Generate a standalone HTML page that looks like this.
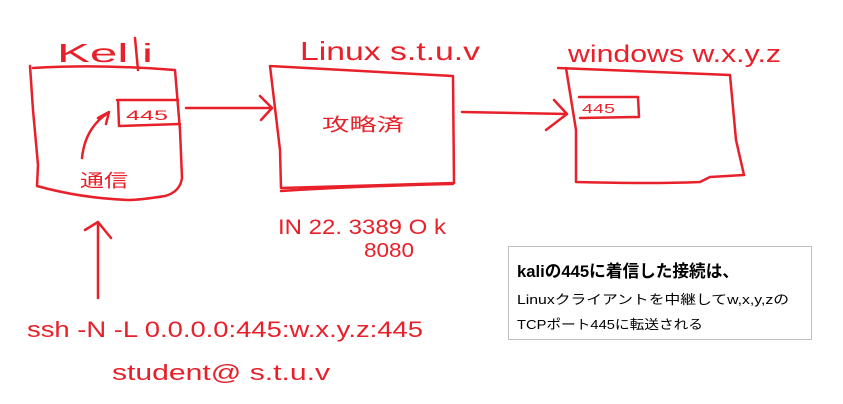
<!DOCTYPE html>
<html><head><meta charset="utf-8"><style>
html,body{margin:0;padding:0;background:#fff;width:843px;height:404px;overflow:hidden}
svg{display:block}
.r{fill:none;stroke:#e8202a;stroke-width:2.5;stroke-linecap:round;stroke-linejoin:round}
.t{fill:#e8202a;font-family:"Liberation Sans","Noto Sans CJK JP",sans-serif}
</style></head><body>
<svg width="843" height="404" viewBox="0 0 843 404">
<path class="r" d="M33 68 Q100 64 175 70 L180 130 L182 178 Q180 192 165 196 Q140 200 128 200 Q80 198 37 186 L38 165 L33 110 L30 66"/>
<text class="t" x="57" y="62" font-size="26" textLength="96" lengthAdjust="spacingAndGlyphs">Kel i</text>
<path class="r" d="M135 38 L138 70"/>
<path class="r" d="M117 100 L178 100 M118 100 L119 126 L180 124"/>
<text class="t" x="126" y="120" font-size="14" textLength="42" lengthAdjust="spacingAndGlyphs">445</text>
<path class="r" d="M82 158 Q85 128 108 113 M98 118 L109 112 L106 124"/>
<text class="t" x="80" y="187" font-size="18" textLength="48" lengthAdjust="spacingAndGlyphs">通信</text>
<path class="r" d="M186 108 L272 108 M260 96 L272 108 L261 120"/>
<path class="r" d="M270 66 L453 76 L454 183 L281 188 L280 150 L270 66"/>
<path class="r" d="M281 191 Q360 186 453 184"/>
<text class="t" x="300" y="60" font-size="26" textLength="180" lengthAdjust="spacingAndGlyphs">Linux s.t.u.v</text>
<text class="t" x="322" y="131" font-size="18" textLength="82" lengthAdjust="spacingAndGlyphs">攻略済</text>
<text class="t" x="278" y="234" font-size="21" textLength="168" lengthAdjust="spacingAndGlyphs">IN  22. 3389 O k</text>
<text class="t" x="364" y="257" font-size="20" textLength="50" lengthAdjust="spacingAndGlyphs">8080</text>
<path class="r" d="M462 112 L567 114 M554 100 L567 114 L546 130"/>
<path class="r" d="M558 68 L730 75 L736 140 L744 175 L710 177 L700 182 Q650 184 576 182 L576 130 L566 68"/>
<text class="t" x="568" y="62" font-size="24" textLength="213" lengthAdjust="spacingAndGlyphs">windows  w.x.y.z</text>
<path class="r" d="M579 97 L638 97 L639 117 L580 118"/>
<text class="t" x="582" y="113" font-size="13" textLength="33" lengthAdjust="spacingAndGlyphs">445</text>
<path class="r" d="M98 298 L98 222 M85 230 L98 222 L111 238"/>
<text class="t" x="27" y="337" font-size="22" textLength="396" lengthAdjust="spacingAndGlyphs">ssh -N -L 0.0.0.0:445:w.x.y.z:445</text>
<text class="t" x="112" y="380" font-size="22" textLength="218" lengthAdjust="spacingAndGlyphs">student@ s.t.u.v</text>
<rect x="508.5" y="246.5" width="303" height="93" fill="#fff" stroke="#bdbdbd" stroke-width="1"/>
<text x="517" y="277" font-family="Liberation Sans,Noto Sans CJK JP,sans-serif" font-size="17" font-weight="bold" fill="#000" textLength="222" lengthAdjust="spacingAndGlyphs">kaliの445に着信した接続は、</text>
<text x="517" y="304" font-family="Liberation Sans,Noto Sans CJK JP,sans-serif" font-size="13" fill="#000" textLength="272" lengthAdjust="spacingAndGlyphs">Linuxクライアントを中継してw,x,y,zの</text>
<text x="517" y="329" font-family="Liberation Sans,Noto Sans CJK JP,sans-serif" font-size="13" fill="#000" textLength="186" lengthAdjust="spacingAndGlyphs">TCPポート445に転送される</text>
</svg>
</body></html>
